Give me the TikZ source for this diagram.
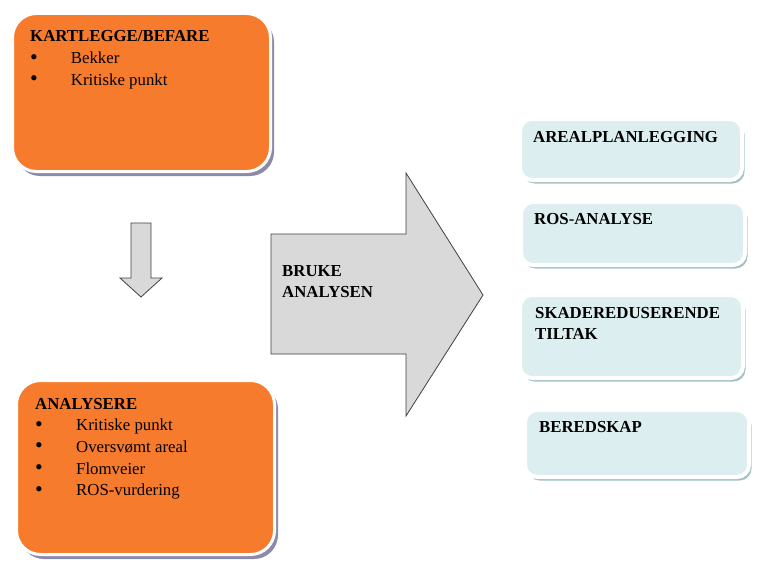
\documentclass[tikz,border=0pt]{standalone}
\usepackage{fontspec}
\setmainfont{Liberation Serif}
\usetikzlibrary{shadows}

\definecolor{boxorange}{HTML}{F77B2C}
\definecolor{boxcyan}{HTML}{DCEEF0}
\definecolor{arrowgray}{HTML}{D9D9D9}
\definecolor{shadowpurple}{HTML}{8C89AA}
\definecolor{shadowteal}{HTML}{A3C1C3}

\newcommand{\bigbullet}{\raisebox{-0.05ex}{\fontsize{22}{0}\selectfont\textbullet}}

\begin{document}
\begin{tikzpicture}[
  x=1pt,
  y=-1pt,
  font=\fontsize{16.8}{21.7}\selectfont,
  orangebox/.style={
    rectangle,
    rounded corners=24pt,
    fill=boxorange,
    draw=white,
    line width=3pt,
    inner sep=0pt,
    drop shadow={shadow xshift=3.5pt, shadow yshift=-4.5pt,
      fill=shadowpurple, opacity=1}
  },
  cyanbox/.style={
    rectangle,
    rounded corners=12pt,
    fill=boxcyan,
    draw=white,
    line width=4pt,
    inner sep=0pt,
    drop shadow={shadow xshift=2.5pt, shadow yshift=-3.5pt,
      fill=shadowteal, opacity=1}
  },
  blockarrow/.style={fill=arrowgray, draw=black!75, line width=0.8pt},
  heading/.style={anchor=base west, inner sep=0pt, font=\fontsize{16.8}{21.7}\selectfont\bfseries},
  listtext/.style={anchor=base west, inner sep=0pt}
]
\useasboundingbox (0,0) rectangle (778,575);

% ---------------------------------------------------------------------------
% Left column: survey and analysis
% ---------------------------------------------------------------------------
\node[orangebox, minimum width=258pt, minimum height=158pt] (kart-box) at (141.5,92.5) {};
\node[listtext] (kart-text) at (30,42) {\begin{tabular}[t]{@{}p{40.7pt}@{}l@{}}
  \multicolumn{2}{@{}l@{}}{\bfseries KARTLEGGE/BEFARE}\\
  \bigbullet & Bekker\\
  \bigbullet & Kritiske punkt
\end{tabular}};

\draw[blockarrow] (131,223) -- (151,223) -- (151,278) -- (162,278)
  -- (141,297) -- (120,278) -- (131,278) -- cycle;

\node[orangebox, minimum width=258pt, minimum height=174pt] (anal-box) at (145.5,467.5) {};
\node[listtext] (anal-text) at (35,409) {\begin{tabular}[t]{@{}p{41pt}@{}l@{}}
  \multicolumn{2}{@{}l@{}}{\bfseries ANALYSERE}\\
  \bigbullet & Kritiske punkt\\
  \bigbullet & Oversvømt areal\\
  \bigbullet & Flomveier\\
  \bigbullet & ROS-vurdering
\end{tabular}};

% ---------------------------------------------------------------------------
% Big arrow
% ---------------------------------------------------------------------------
\draw[blockarrow] (271,234) -- (406,234) -- (406,173) -- (483,295)
  -- (406,416) -- (406,354) -- (271,354) -- cycle;
\node[heading] (bruke) at (282,276) {\begin{tabular}[t]{@{}l@{}}BRUKE\\ANALYSEN\end{tabular}};

% ---------------------------------------------------------------------------
% Right column: use of the analysis
% ---------------------------------------------------------------------------
\node[cyanbox, minimum width=222pt, minimum height=61pt] (areal-box) at (631,149.5) {};
\node[heading] (areal) at (533,142) {AREALPLANLEGGING};

\node[cyanbox, minimum width=224pt, minimum height=63pt] (ros-box) at (633,233.5) {};
\node[heading] (ros) at (534,224) {ROS-ANALYSE};

\node[cyanbox, minimum width=223pt, minimum height=83pt] (skade-box) at (631.5,336.5) {};
\node[heading] (skade) at (535,318) {\begin{tabular}[t]{@{}l@{}}SKADEREDUSERENDE\\TILTAK\end{tabular}};

\node[cyanbox, minimum width=224pt, minimum height=67pt] (bered-box) at (637,443.5) {};
\node[heading] (bered) at (539,432) {BEREDSKAP};
\end{tikzpicture}
\end{document}
